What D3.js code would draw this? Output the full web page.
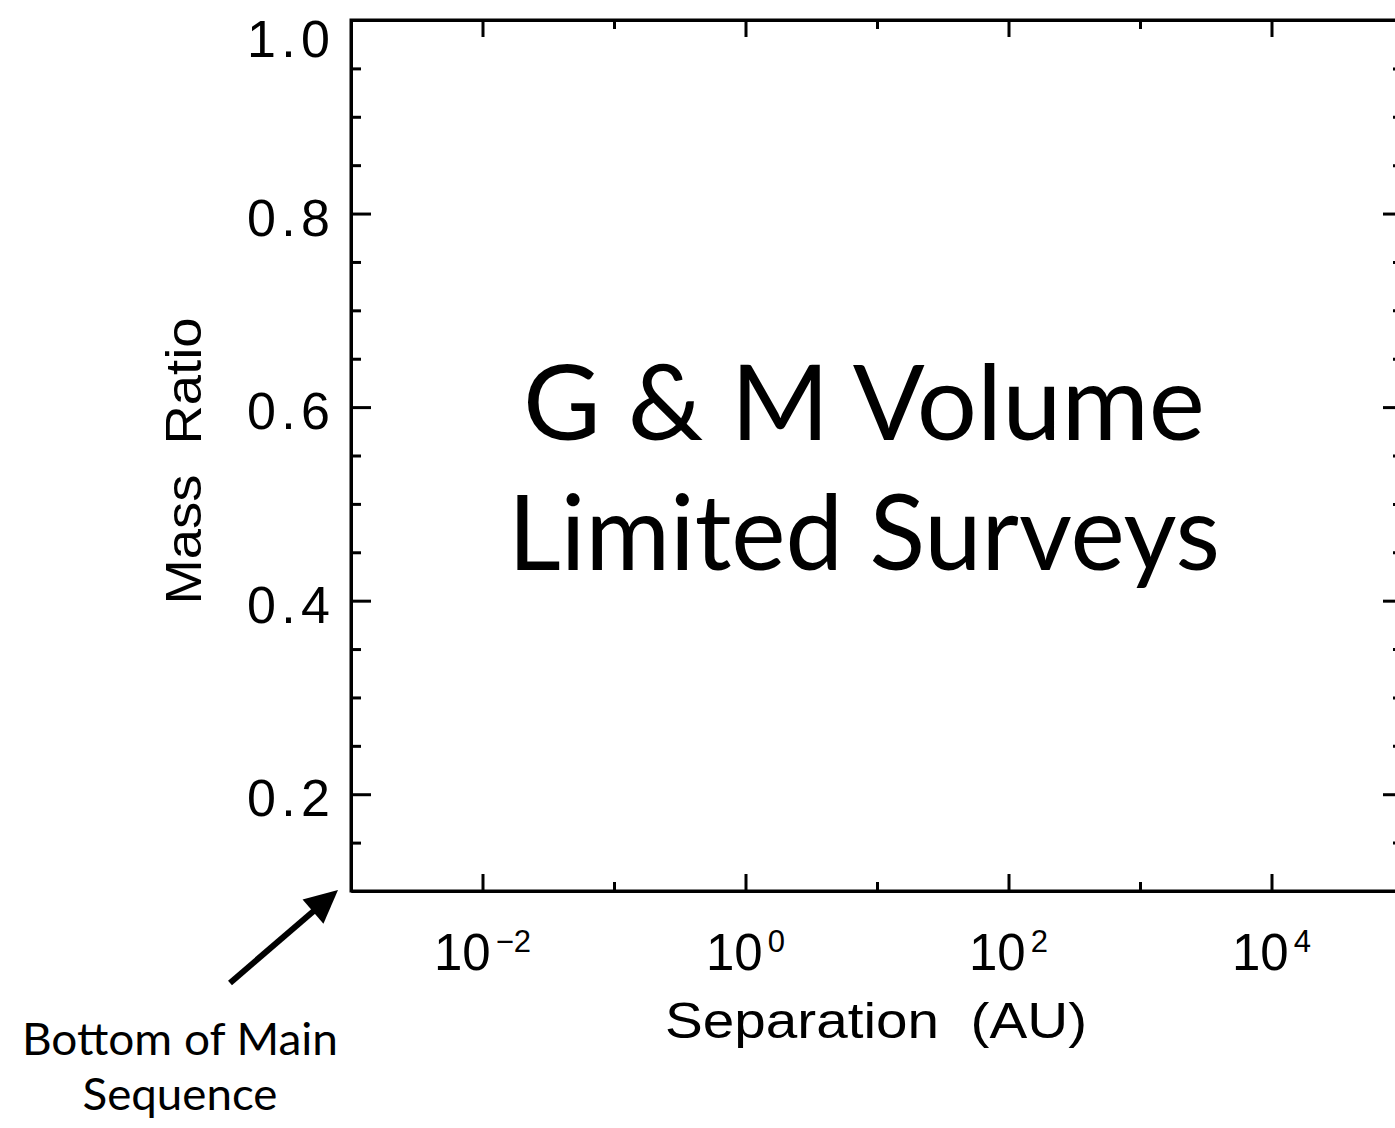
<!DOCTYPE html>
<html>
<head>
<meta charset="utf-8">
<script src="https://cdn.jsdelivr.net/npm/d3@7"></script>
<style>
  html, body { margin: 0; padding: 0; background: #fff; }
  svg { display: block; }
  .tick-label { font-family: "Liberation Sans", Arial, sans-serif; fill: #000; }
  .title { font-family: Lato, "Open Sans", sans-serif; font-weight: 400; fill: #000; }
</style>
</head>
<body>
<svg id="chart" width="1395" height="1128"></svg>
<script>
// Axis extents and ticks
const xDomain = [1e-3, 1e5];
const yDomain = [0.1, 1.0];
const xMajorTicks = [1e-2, 1e0, 1e2, 1e4];
const xMajorExponents = ["\u22122", "0", "2", "4"];
const xMinorTicks = [1e-1, 1e1, 1e3];
const yMajorTicks = [0.2, 0.4, 0.6, 0.8, 1.0];
const yMajorLabels = ["0.2", "0.4", "0.6", "0.8", "1.0"];
const yMinorTicks = [0.15, 0.25, 0.3, 0.35, 0.45, 0.5, 0.55, 0.65, 0.7, 0.75, 0.85, 0.9, 0.95];

// Text
const xTitle = "Separation  (AU)";
const yTitle = "Mass  Ratio";
const panelText = ["G & M Volume", "Limited Surveys"];
const noteText = ["Bottom of Main", "Sequence"];

const margin = { left: 351, top: 20 };
const plotW = 1052, plotH = 871;

const svg = d3.select("#chart");
const g = svg.append("g").attr("transform", `translate(${margin.left},${margin.top})`);

const x = d3.scaleLog().domain(xDomain).range([0, plotW]);
const y = d3.scaleLinear().domain(yDomain).range([plotH, 0]);

const AXIS_W = 3;

function styleAxis(sel) {
  sel.selectAll("path.domain").attr("stroke", "#000").attr("stroke-width", AXIS_W);
  sel.selectAll(".tick line").attr("stroke", "#000").attr("stroke-width", AXIS_W);
  sel.selectAll(".tick text").remove();
}

// Frame: bottom, top, left, right with major and minor ticks pointing inward
g.append("g").attr("transform", `translate(0,${plotH})`)
  .call(d3.axisBottom(x).tickValues(xMajorTicks).tickSize(-17).tickSizeOuter(0)).call(styleAxis);
g.append("g").attr("transform", `translate(0,${plotH})`)
  .call(d3.axisBottom(x).tickValues(xMinorTicks).tickSize(-9).tickSizeOuter(0)).call(styleAxis);
g.append("g")
  .call(d3.axisTop(x).tickValues(xMajorTicks).tickSize(-17).tickSizeOuter(0)).call(styleAxis);
g.append("g")
  .call(d3.axisTop(x).tickValues(xMinorTicks).tickSize(-9).tickSizeOuter(0)).call(styleAxis);
g.append("g")
  .call(d3.axisLeft(y).tickValues(yMajorTicks).tickSize(-20).tickSizeOuter(0)).call(styleAxis);
g.append("g")
  .call(d3.axisLeft(y).tickValues(yMinorTicks).tickSize(-10).tickSizeOuter(0)).call(styleAxis);
g.append("g").attr("transform", `translate(${plotW},0)`)
  .call(d3.axisRight(y).tickValues(yMajorTicks).tickSize(-20).tickSizeOuter(0)).call(styleAxis);
g.append("g").attr("transform", `translate(${plotW},0)`)
  .call(d3.axisRight(y).tickValues(yMinorTicks).tickSize(-10).tickSizeOuter(0)).call(styleAxis);

// Square off the corners of the frame
g.append("rect")
  .attr("x", 0).attr("y", 0).attr("width", plotW).attr("height", plotH)
  .attr("fill", "none").attr("stroke", "#000").attr("stroke-width", AXIS_W);

// Y tick labels (the top one is kept inside the page)
g.selectAll("text.ylab").data(yMajorTicks).join("text")
  .attr("class", "tick-label ylab")
  .attr("x", -21).attr("y", d => Math.max(y(d) + 22, 37))
  .attr("text-anchor", "end")
  .attr("font-size", 52)
  .attr("textLength", 83).attr("lengthAdjust", "spacing")
  .text((d, i) => yMajorLabels[i]);

// X tick labels: 10 with superscript exponent
const xl = g.selectAll("text.xlab").data(xMajorTicks).join("text")
  .attr("class", "tick-label xlab")
  .attr("x", d => x(d))
  .attr("y", plotH + 79)
  .attr("text-anchor", "middle")
  .attr("font-size", 51);
xl.append("tspan").text("10");
xl.append("tspan").attr("dx", 5).attr("dy", -18).attr("font-size", 31)
  .text((d, i) => xMajorExponents[i]);

// Axis titles
g.append("text").attr("class", "tick-label")
  .attr("x", 525).attr("y", plotH + 147)
  .attr("text-anchor", "middle").attr("font-size", 50)
  .attr("xml:space", "preserve")
  .attr("textLength", 422).attr("lengthAdjust", "spacingAndGlyphs")
  .text(xTitle);

g.append("text").attr("class", "tick-label")
  .attr("transform", `translate(${-150},${441}) rotate(-90)`)
  .attr("text-anchor", "middle").attr("font-size", 50)
  .attr("xml:space", "preserve")
  .attr("textLength", 287).attr("lengthAdjust", "spacingAndGlyphs")
  .text(yTitle);

// Panel caption
const panelWidths = [682, 712];
g.selectAll("text.panel").data(panelText).join("text")
  .attr("class", "title panel")
  .attr("x", 513)
  .attr("y", (d, i) => 420 + i * 130)
  .attr("text-anchor", "middle")
  .attr("font-size", 104)
  .attr("textLength", (d, i) => panelWidths[i])
  .attr("lengthAdjust", "spacingAndGlyphs")
  .text(d => d);

// Annotation arrow pointing at the lower-left corner of the frame
const cx = x(xDomain[0]), cy = y(yDomain[0]);
const tip = [cx - 13, cy - 1];
const tail = [cx - 121, cy + 92];
const ang = Math.atan2(tip[1] - tail[1], tip[0] - tail[0]);
const headLen = 33, headHalf = 16;
const base = [tip[0] - headLen * Math.cos(ang), tip[1] - headLen * Math.sin(ang)];
g.append("line")
  .attr("x1", tail[0]).attr("y1", tail[1])
  .attr("x2", base[0] + 4 * Math.cos(ang)).attr("y2", base[1] + 4 * Math.sin(ang))
  .attr("stroke", "#000").attr("stroke-width", 6);
g.append("path")
  .attr("d", d3.line()([
    tip,
    [base[0] + headHalf * Math.sin(ang), base[1] - headHalf * Math.cos(ang)],
    [base[0] - headHalf * Math.sin(ang), base[1] + headHalf * Math.cos(ang)]
  ]) + "Z")
  .attr("fill", "#000");

// Annotation text
const noteWidths = [316, 195];
g.selectAll("text.note").data(noteText).join("text")
  .attr("class", "title note")
  .attr("x", 180 - margin.left)
  .attr("y", (d, i) => plotH + 164 + i * 55)
  .attr("text-anchor", "middle")
  .attr("font-size", 44)
  .attr("textLength", (d, i) => noteWidths[i])
  .attr("lengthAdjust", "spacingAndGlyphs")
  .text(d => d);
</script>
</body>
</html>
